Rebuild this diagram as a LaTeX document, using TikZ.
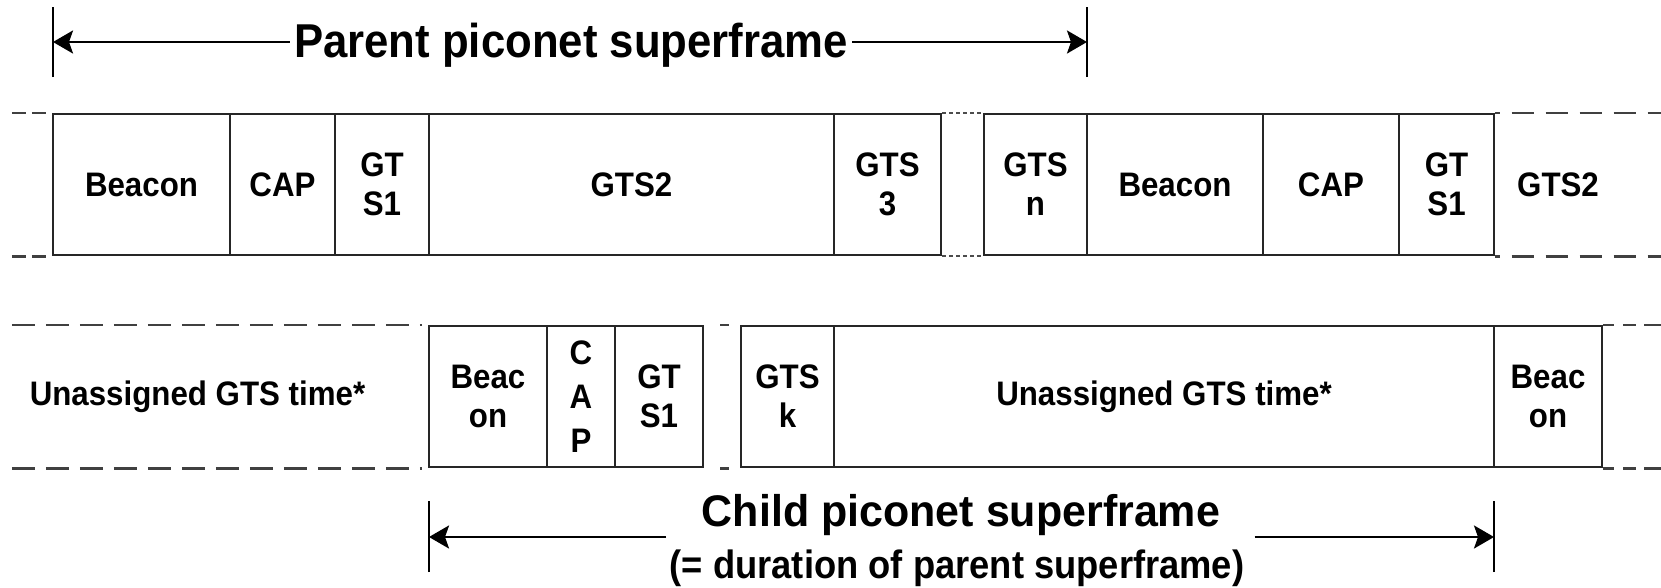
\documentclass[tikz,border=0pt]{standalone}
\usepackage{fontspec}
\setmainfont{Liberation Sans}[FakeStretch=0.92]
\newfontfamily\childfont{Liberation Sans}[FakeStretch=0.97]
\usetikzlibrary{arrows.meta}
\begin{document}
\begin{tikzpicture}[x=1pt,y=-1pt,
  cell/.style={draw=black!85, line width=2.4pt, minimum height=141pt, inner sep=0pt,
    align=center, font=\bfseries\fontsize{34}{39}\selectfont},
  lbl/.style={inner sep=0pt, align=center, font=\bfseries\fontsize{34}{39}\selectfont},
  ext/.style={draw=black!75, line width=2.6pt, dash pattern=on 23pt off 11pt},
  dotline/.style={draw=black!70, line width=1.8pt, dash pattern=on 4pt off 3pt},
  tick/.style={draw=black, line width=2.2pt},
  arr/.style={draw=black, line width=2.6pt, -{Stealth[length=20pt,width=23pt,inset=4pt]}}]
\useasboundingbox (0,0) rectangle (1661,587);

% ---------- title ----------
\coordinate (tl) at (53,42);
\coordinate (tr) at (1087,42);
\draw[tick] ([yshift=-35pt]tl) -- ([yshift=35pt]tl);
\draw[tick] ([yshift=-35pt]tr) -- ([yshift=35pt]tr);
\node[anchor=base, inner sep=4pt, font=\bfseries\fontsize{47.5}{50}\selectfont] (title) at (571,57.3) {Parent piconet superframe};
\draw[arr] (tl -| title.west) -- (tl);
\draw[arr] (tr -| title.east) -- (tr);

% ---------- parent row ----------
\node[cell, minimum width=177pt] (p1) at (141.5,184.5) {Beacon};
\node[cell, minimum width=105pt] (p2) at (282.5,184.5) {CAP};
\node[cell, minimum width=94pt]  (p3) at (382,184.5) {GT\\S1};
\node[cell, minimum width=405pt] (p4) at (631.5,184.5) {GTS2};
\node[cell, minimum width=107pt] (p5) at (887.5,184.5) {GTS\\3};
\node[cell, minimum width=103pt] (p6) at (1035.5,184.5) {GTS\\n};
\node[cell, minimum width=176pt] (p7) at (1175,184.5) {Beacon};
\node[cell, minimum width=136pt] (p8) at (1331,184.5) {CAP};
\node[cell, minimum width=95pt]  (p9) at (1446.5,184.5) {GT\\S1};
\node[lbl] (p10) at (1558,184.5) {GTS2};

\draw[ext, dash pattern=on 14pt off 6pt] ([xshift=-40pt]p1.north west) -- (p1.north west);
\draw[ext, dash pattern=on 14pt off 6pt] ([xshift=-40pt]p1.south west) -- (p1.south west);
\draw[dotline] (p5.north east) -- (p6.north west);
\draw[dotline] (p5.south east) -- (p6.south west);
\draw[ext, dash pattern=on 5pt off 11.5pt on 22.5pt off 11.5pt on 22.5pt off 11.5pt on 22.5pt off 11.5pt on 22.5pt off 11.5pt on 22.5pt off 11.5pt]
  (p9.north east) -- ([xshift=167pt]p9.north east);
\draw[ext, dash pattern=on 5pt off 11.5pt on 22.5pt off 11.5pt on 22.5pt off 11.5pt on 22.5pt off 11.5pt on 22.5pt off 11.5pt on 22.5pt off 11.5pt]
  (p9.south east) -- ([xshift=167pt]p9.south east);

% ---------- child row ----------
\node[lbl] (c1) at (197.5,396.5) {Unassigned GTS time*};
\node[cell, minimum width=118pt] (c2) at (488,396.5) {Beac\\on};
\node[cell, minimum width=68pt, font=\bfseries\fontsize{34}{44}\selectfont] (c3) at (581,396.5) {C\\A\\P};
\node[cell, minimum width=88pt]  (c4) at (659,396.5) {GT\\S1};
\node[cell, minimum width=93pt]  (c5) at (787.5,396.5) {GTS\\k};
\node[cell, minimum width=660pt] (c6) at (1164,396.5) {Unassigned GTS time*};
\node[cell, minimum width=108pt] (c7) at (1548,396.5) {Beac\\on};

\draw[ext] ([xshift=-416pt]c2.north west) -- ([xshift=-6pt]c2.north west);
\draw[ext] ([xshift=-416pt]c2.south west) -- ([xshift=-6pt]c2.south west);
\draw[ext] ([xshift=16pt]c4.north east) -- ([xshift=-11pt]c5.north west);
\draw[ext] ([xshift=16pt]c4.south east) -- ([xshift=-11pt]c5.south west);
\draw[ext, dash pattern=on 11pt off 9pt on 13pt off 8pt on 20pt off 10pt] (c7.north east) -- ([xshift=59pt]c7.north east);
\draw[ext, dash pattern=on 11pt off 9pt on 13pt off 8pt on 20pt off 10pt] (c7.south east) -- ([xshift=59pt]c7.south east);

% ---------- child superframe ----------
\coordinate (bl) at (429,537);
\coordinate (br) at (1494,537);
\coordinate (cl) at (666,537);
\coordinate (cr) at (1254.5,537);
\draw[tick] ([yshift=-35pt]bl) -- ([yshift=36pt]bl);
\draw[tick] ([yshift=-35pt]br) -- ([yshift=36pt]br);
\node[anchor=base, inner sep=3pt, font=\childfont\bfseries\fontsize{44.3}{46}\selectfont] (child) at (961,526.7) {Child piconet superframe};
\node[anchor=base, inner sep=3pt, font=\bfseries\fontsize{39.5}{42}\selectfont] (dur) at (957,578) {(= duration of parent superframe)};
\draw[arr] (cl) -- (bl);
\draw[arr] (cr) -- (br);
\end{tikzpicture}
\end{document}
